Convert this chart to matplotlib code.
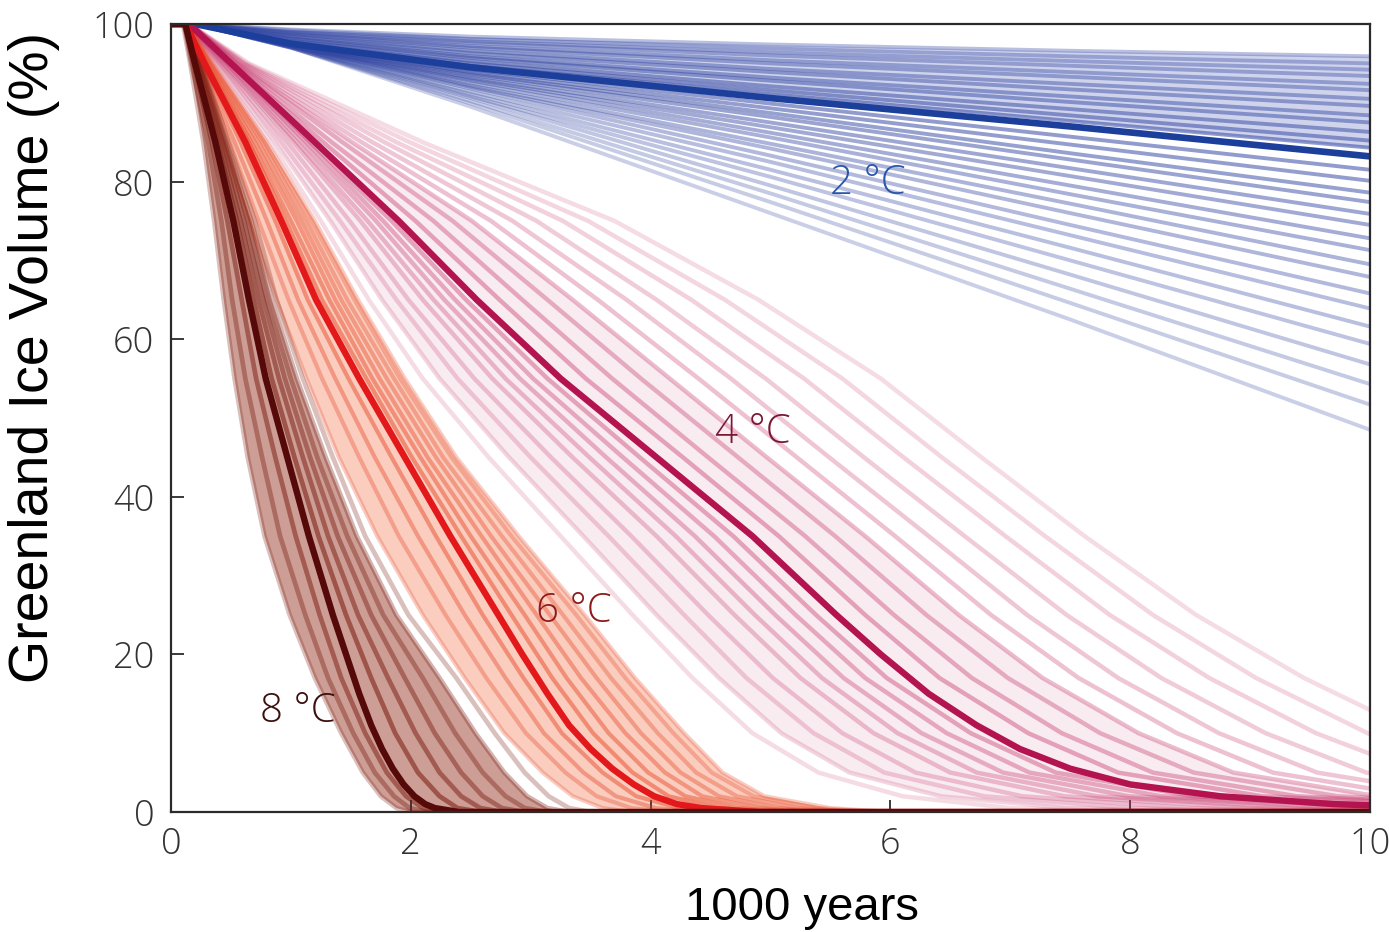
import matplotlib
matplotlib.use('Agg')
import matplotlib.pyplot as plt
import numpy as np

# ---------------- data ----------------
X_TICKS = [0, 2, 4, 6, 8, 10]
Y_TICKS = [0, 20, 40, 60, 80, 100]
X_LABEL = '1000 years'
Y_LABEL = 'Greenland Ice Volume (%)'
GROUP_LABELS = ['2 °C', '4 °C', '6 °C', '8 °C']

START_VOLUME = 100.0

# 2 °C runs: ice volume (%) at these times (kyr); all runs sit at 100 until ONSET_2C
ONSET_2C = 0.2
TIMES_2C = [1, 2.5, 5, 7.5, 10]
MEDIAN_2C = [97.5, 94.5, 90.6, 87.0, 83.2]
RUNS_2C = [
    [99.3, 98.4, 97.4, 96.6, 95.9],
    [99.2, 98.1, 96.9, 95.9, 95.0],
    [99.0, 97.8, 96.4, 95.3, 94.2],
    [98.9, 97.6, 96.0, 94.7, 93.4],
    [98.8, 97.2, 95.4, 93.9, 92.4],
    [98.7, 97.0, 95.0, 93.3, 91.6],
    [98.5, 96.6, 94.3, 92.4, 90.5],
    [98.4, 96.3, 93.9, 91.7, 89.6],
    [98.2, 95.9, 93.2, 90.8, 88.4],
    [98.1, 95.7, 92.8, 90.1, 87.5],
    [97.9, 95.3, 92.1, 89.2, 86.3],
    [97.7, 95.0, 91.6, 88.4, 85.2],
    [97.6, 94.7, 91.1, 87.7, 84.3],
    [97.4, 94.2, 89.9, 85.7, 81.5],
    [97.3, 93.9, 89.3, 84.7, 80.1],
    [97.3, 93.7, 88.7, 83.6, 78.6],
    [97.3, 93.5, 88.2, 82.8, 77.4],
    [97.2, 93.2, 87.5, 81.7, 75.9],
    [97.2, 93.0, 86.9, 80.7, 74.5],
    [97.2, 92.8, 86.2, 79.5, 72.8],
    [97.2, 92.5, 85.6, 78.4, 71.3],
    [97.2, 92.2, 84.8, 77.2, 69.5],
    [97.2, 92.0, 84.2, 76.0, 67.9],
    [97.2, 91.8, 83.3, 74.5, 65.8],
    [97.1, 91.4, 82.5, 73.2, 63.9],
    [97.1, 91.1, 81.5, 71.6, 61.6],
    [97.1, 90.8, 80.6, 70.0, 59.4],
    [97.0, 90.6, 79.5, 68.2, 56.8],
    [97.0, 90.2, 78.5, 66.4, 54.3],
    [97.0, 89.9, 77.4, 64.6, 51.7],
    [97.0, 89.5, 76.0, 62.5, 48.5],
]

# 4, 6, 8 °C runs: time (kyr) at which each run falls to these volume levels (%)
LEVELS = [100, 95, 85, 75, 65, 55, 45, 35, 25, 17, 10, 5, 2, 0.5, 0]
# the thick median runs were read at a finer set of levels
MED_LEVELS = [100, 95, 85, 75, 65, 55, 45, 35, 25, 20, 15, 11, 8, 5.5, 3.5, 2, 1, 0.5, 0]

MEDIAN_4C = [0.15, 0.50, 1.20, 1.90, 2.55, 3.25, 4.05, 4.85, 5.55, 5.92, 6.32, 6.72, 7.08,
             7.50, 8.00, 8.75, 9.70, 10.7, 13.0]
RUNS_4C = [  # fastest -> slowest
    [0.12, 0.36, 0.83, 1.25, 1.65, 2.10, 2.65, 3.25, 3.85, 4.35, 4.85, 5.40, 6.10, 7.00, 8.0],
    [0.12, 0.38, 0.87, 1.33, 1.76, 2.24, 2.82, 3.44, 4.05, 4.57, 5.09, 5.66, 6.42, 7.48, 8.6],
    [0.13, 0.40, 0.92, 1.41, 1.88, 2.39, 3.00, 3.65, 4.28, 4.80, 5.36, 5.95, 6.78, 8.00, 9.25],
    [0.13, 0.41, 0.97, 1.49, 1.98, 2.53, 3.17, 3.84, 4.48, 5.02, 5.60, 6.21, 7.10, 8.48, 9.85],
    [0.13, 0.43, 1.02, 1.58, 2.10, 2.68, 3.35, 4.05, 4.70, 5.25, 5.86, 6.50, 7.45, 9.00, 10.5],
    [0.14, 0.44, 1.05, 1.64, 2.19, 2.79, 3.49, 4.21, 4.87, 5.43, 6.06, 6.72, 7.72, 9.40, 11.0],
    [0.14, 0.46, 1.09, 1.71, 2.28, 2.91, 3.63, 4.37, 5.04, 5.61, 6.26, 6.94, 7.99, 9.80, 11.5],
    [0.14, 0.47, 1.13, 1.77, 2.37, 3.02, 3.77, 4.53, 5.21, 5.79, 6.47, 7.16, 8.26, 10.2, 12.0],
    [0.15, 0.49, 1.16, 1.84, 2.46, 3.14, 3.91, 4.69, 5.38, 5.97, 6.67, 7.38, 8.53, 10.6, 12.5],
    [0.15, 0.51, 1.27, 2.04, 2.74, 3.46, 4.27, 5.07, 5.79, 6.41, 7.15, 7.90, 9.10, 11.24, 13.24],
    [0.15, 0.52, 1.34, 2.19, 2.93, 3.68, 4.48, 5.29, 6.03, 6.68, 7.43, 8.19, 9.39, 11.48, 13.48],
    [0.15, 0.54, 1.43, 2.35, 3.14, 3.92, 4.73, 5.54, 6.30, 6.98, 7.75, 8.53, 9.73, 11.75, 13.75],
    [0.15, 0.55, 1.51, 2.51, 3.35, 4.16, 4.97, 5.79, 6.57, 7.27, 8.07, 8.86, 10.06, 12.02, 14.02],
    [0.15, 0.56, 1.59, 2.67, 3.56, 4.40, 5.22, 6.04, 6.84, 7.57, 8.39, 9.19, 10.39, 12.29, 14.29],
    [0.15, 0.58, 1.68, 2.85, 3.80, 4.67, 5.49, 6.32, 7.14, 7.90, 8.74, 9.56, 10.76, 12.59, 14.59],
    [0.15, 0.60, 1.78, 3.05, 4.05, 4.96, 5.78, 6.62, 7.47, 8.26, 9.13, 9.97, 11.17, 12.92, 14.92],
    [0.15, 0.61, 1.88, 3.27, 4.34, 5.28, 6.11, 6.96, 7.83, 8.66, 9.55, 10.41, 11.61, 13.28, 15.28],
    [0.15, 0.63, 1.99, 3.48, 4.62, 5.60, 6.43, 7.29, 8.19, 9.05, 9.98, 10.86, 12.06, 13.64, 15.64],
    [0.15, 0.65, 2.10, 3.70, 4.90, 5.92, 6.76, 7.62, 8.55, 9.45, 10.40, 11.30, 12.50, 14.00, 16.0],
]

MEDIAN_6C = [0.12, 0.28, 0.62, 0.92, 1.21, 1.57, 1.95, 2.33, 2.73, 2.93, 3.14, 3.32, 3.50,
             3.68, 3.86, 4.03, 4.22, 4.42, 4.90]
RUNS_6C = [
    [0.12, 0.22, 0.43, 0.65, 0.88, 1.13, 1.40, 1.72, 2.10, 2.45, 2.78, 3.10, 3.35, 3.60, 3.85],
    [0.12, 0.24, 0.49, 0.73, 0.98, 1.26, 1.57, 1.90, 2.29, 2.63, 2.96, 3.29, 3.55, 3.84, 4.17],
    [0.12, 0.25, 0.53, 0.80, 1.06, 1.37, 1.70, 2.06, 2.45, 2.79, 3.11, 3.44, 3.71, 4.04, 4.43],
    [0.12, 0.27, 0.58, 0.87, 1.14, 1.48, 1.84, 2.21, 2.60, 2.94, 3.26, 3.60, 3.88, 4.24, 4.69],
    [0.12, 0.29, 0.65, 0.96, 1.26, 1.63, 2.01, 2.42, 2.84, 3.18, 3.52, 3.85, 4.15, 4.57, 5.07],
    [0.12, 0.30, 0.67, 1.00, 1.32, 1.68, 2.08, 2.50, 2.95, 3.30, 3.65, 3.98, 4.29, 4.73, 5.23],
    [0.12, 0.31, 0.70, 1.05, 1.37, 1.74, 2.14, 2.59, 3.05, 3.42, 3.79, 4.12, 4.43, 4.90, 5.40],
    [0.13, 0.32, 0.73, 1.09, 1.42, 1.80, 2.21, 2.67, 3.16, 3.55, 3.92, 4.25, 4.57, 5.06, 5.56],
    [0.13, 0.33, 0.76, 1.13, 1.47, 1.86, 2.27, 2.76, 3.27, 3.67, 4.06, 4.38, 4.72, 5.23, 5.73],
    [0.13, 0.34, 0.78, 1.17, 1.53, 1.91, 2.34, 2.84, 3.38, 3.79, 4.19, 4.51, 4.86, 5.39, 5.89],
    [0.13, 0.35, 0.80, 1.20, 1.56, 1.95, 2.38, 2.90, 3.45, 3.87, 4.28, 4.60, 4.95, 5.50, 6.00],
]

MEDIAN_8C = [0.12, 0.20, 0.37, 0.52, 0.65, 0.79, 0.97, 1.15, 1.35, 1.46, 1.57, 1.67, 1.76,
             1.85, 1.94, 2.03, 2.12, 2.20, 2.40]
RUNS_8C = [
    [0.10, 0.16, 0.27, 0.36, 0.44, 0.53, 0.64, 0.78, 0.99, 1.20, 1.42, 1.60, 1.75, 1.88, 2.00],
    [0.11, 0.17, 0.31, 0.42, 0.51, 0.62, 0.76, 0.91, 1.12, 1.31, 1.52, 1.70, 1.86, 1.99, 2.14],
    [0.11, 0.19, 0.34, 0.47, 0.59, 0.71, 0.87, 1.04, 1.24, 1.42, 1.62, 1.80, 1.96, 2.10, 2.28],
    [0.12, 0.21, 0.39, 0.55, 0.69, 0.84, 1.03, 1.23, 1.46, 1.67, 1.87, 2.06, 2.24, 2.39, 2.59],
    [0.13, 0.22, 0.41, 0.58, 0.73, 0.90, 1.10, 1.31, 1.56, 1.81, 2.04, 2.24, 2.42, 2.58, 2.77],
    [0.13, 0.23, 0.43, 0.61, 0.77, 0.95, 1.16, 1.39, 1.67, 1.95, 2.20, 2.42, 2.60, 2.76, 2.95],
    [0.13, 0.24, 0.45, 0.64, 0.80, 1.00, 1.22, 1.47, 1.77, 2.10, 2.37, 2.60, 2.79, 2.95, 3.14],
    [0.14, 0.25, 0.46, 0.67, 0.84, 1.05, 1.29, 1.55, 1.88, 2.24, 2.54, 2.78, 2.97, 3.14, 3.32],
    [0.14, 0.26, 0.48, 0.70, 0.88, 1.10, 1.35, 1.62, 1.98, 2.38, 2.70, 2.95, 3.15, 3.32, 3.50],
]

# ---------------- figure ----------------
W, H = 1389, 932
fig = plt.figure(figsize=(W / 100, H / 100), dpi=100)
L, R, T, B = 171, 1370, 24, 812
ax = fig.add_axes([L / W, 1 - B / H, (R - L) / W, (B - T) / H])
ax.set_xlim(0, 10)
ax.set_ylim(0, 100)

TAIL = 12.0  # runs that reached zero stay on the floor to the right edge


def level_curve(times, levels=LEVELS):
    x = [0.0] + list(times) + [max(TAIL, times[-1])]
    y = [START_VOLUME] + list(levels) + [levels[-1]]
    return np.array(x), np.array(y)


def draw_level_group(runs, median, color, mcolor, lw, amax, amin, n_fast, mlw=4.6):
    n = len(runs)
    for i, r in enumerate(runs):
        if i < n_fast:
            d = (n_fast - i) / max(n_fast, 1)
        else:
            d = (i - n_fast + 1) / max(n - n_fast, 1)
        a = amax - (amax - amin) * d
        x, y = level_curve(r)
        ax.plot(x, y, color=color, lw=lw, alpha=a, solid_capstyle='round',
                solid_joinstyle='round', zorder=2)
    x, y = level_curve(median, MED_LEVELS)
    ax.plot(x, y, color=mcolor, lw=mlw, solid_capstyle='round',
            solid_joinstyle='round', zorder=3)


def band(run_a, run_b, color, alpha):
    xa, y = level_curve(run_a)
    xb, _ = level_curve(run_b)
    ax.fill_betweenx(y, xa, xb, color=color, alpha=alpha, lw=0, zorder=1)


# --- 2 °C ---
xb = np.array([0.0, ONSET_2C] + TIMES_2C)
top = np.array([START_VOLUME, START_VOLUME] + RUNS_2C[0])
mid = np.array([START_VOLUME, START_VOLUME] + RUNS_2C[12])
ax.fill_between(xb, mid, top, color='#5467bd', alpha=0.28, lw=0, zorder=1)
nmed2 = 13
for i, r in enumerate(RUNS_2C):
    d = abs(i - nmed2 + 0.5) / (len(RUNS_2C) - nmed2)
    a = 0.55 - 0.30 * min(d, 1.0)
    ax.plot(xb, [START_VOLUME, START_VOLUME] + r, color='#3447a3', lw=2.8,
            alpha=a, solid_capstyle='round', zorder=2)
ax.plot(xb, [START_VOLUME, START_VOLUME] + MEDIAN_2C, color='#1c3f9c', lw=4.8,
        solid_capstyle='round', zorder=3)

# --- 4 °C ---
band(RUNS_4C[1], RUNS_4C[12], '#d26a93', 0.12)
draw_level_group(RUNS_4C, MEDIAN_4C, '#c83a6e', '#b3134f', 3.2, 0.45, 0.18, 9)

# --- 6 °C ---
band(RUNS_6C[0], RUNS_6C[-1], '#f27650', 0.36)
draw_level_group(RUNS_6C, MEDIAN_6C, '#e84a2a', '#e2181a', 3.0, 0.55, 0.28, 4)

# --- 8 °C ---
band(RUNS_8C[0], RUNS_8C[-2], '#983522', 0.48)
draw_level_group(RUNS_8C, MEDIAN_8C, '#7d2015', '#560909', 3.4, 0.65, 0.28, 3)

# ---------------- axes styling ----------------
for s in ax.spines.values():
    s.set_color('#2b2b2b')
    s.set_linewidth(1.6)
    s.set_zorder(5)
ax.set_xticks(X_TICKS)
ax.set_yticks(Y_TICKS)
ax.set_xticklabels([str(v) for v in X_TICKS])
ax.set_yticklabels([str(v) for v in Y_TICKS])
ax.tick_params(axis='both', direction='in', length=9, width=1.3, color='#2b2b2b',
               labelcolor='#333333', top=False, right=False)
ax.tick_params(axis='y', labelsize=26, pad=12)
ax.tick_params(axis='x', labelsize=26, pad=10)
for lab in ax.get_xticklabels() + ax.get_yticklabels():
    lab.set_fontfamily('Open Sans')
    lab.set_fontweight('light')

fig.text(34 / W, 1 - 357 / H, Y_LABEL, rotation=90, ha='center', va='center',
         fontsize=40, family='Liberation Sans', color='black')
fig.text(802 / W, 1 - 920 / H, X_LABEL, ha='center', va='baseline',
         fontsize=34, family='Liberation Sans', color='black')

label_pos = [(5.81, 79.8), (4.85, 48.2), (3.36, 25.5), (1.06, 12.7)]
label_col = ['#2a56a8', '#7a1834', '#8e1b1b', '#3c0f0f']
for txt, (lx, ly), c in zip(GROUP_LABELS, label_pos, label_col):
    ax.text(lx, ly, txt, ha='center', va='center', fontsize=29, color=c,
            family='Open Sans', fontweight='light', zorder=6)

fig.savefig('out.png', dpi=100, facecolor='white')
